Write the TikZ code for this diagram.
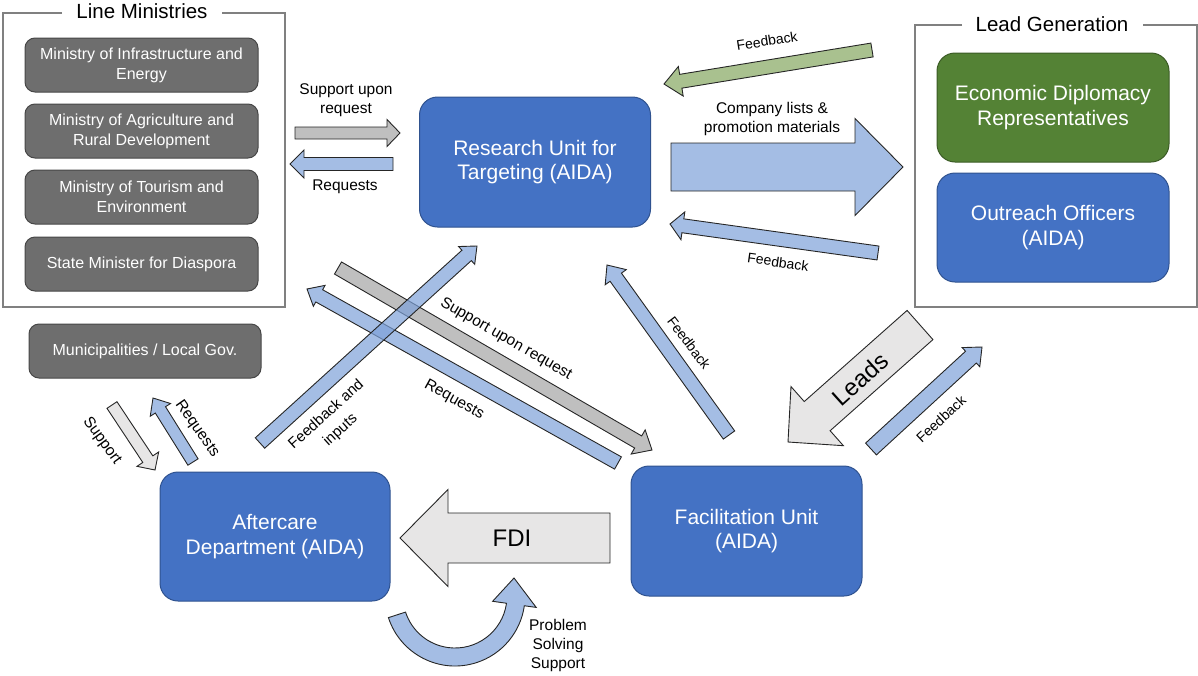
\documentclass[tikz,border=0pt]{standalone}
\usepackage{fontspec}
\setmainfont{Liberation Sans}
\usetikzlibrary{calc}
\definecolor{boxblue}{HTML}{4472C4}
\definecolor{boxblueline}{HTML}{2F528F}
\definecolor{boxgreen}{HTML}{548235}
\definecolor{boxgreenline}{HTML}{3B5B25}
\definecolor{boxgray}{HTML}{6E6E6E}
\definecolor{boxgrayline}{HTML}{474747}
\definecolor{framegray}{HTML}{808080}
\definecolor{arblue}{HTML}{7DA1D8}
\definecolor{argray}{HTML}{A4A4A4}
\definecolor{arlight}{HTML}{E7E6E6}
\definecolor{argreen}{HTML}{A9C18F}
\definecolor{arline}{HTML}{262626}

% block arrow: #1 style, #2 tail, #3 tip, #4 half shaft, #5 half head, #6 head length
\newcommand{\blockarrow}[6]{%
  \coordinate (hb) at ($(#3)!#6pt!(#2)$);
  \draw[#1] ($(#2)!#4pt!90:(#3)$) -- ($(hb)!#4pt!-90:(#2)$) -- ($(hb)!#5pt!-90:(#2)$) -- (#3)
    -- ($(hb)!#5pt!90:(#2)$) -- ($(hb)!#4pt!90:(#2)$) -- ($(#2)!#4pt!-90:(#3)$) -- cycle;}

\begin{document}
\begin{tikzpicture}[x=1pt,y=-1pt,
  font=\fontsize{15.5}{19}\selectfont,
  mbox/.style={draw=boxgrayline, fill=boxgray, rounded corners=10pt, line width=1pt,
     text=white, align=center, minimum width=233pt, minimum height=54pt, inner sep=0pt,
     font=\fontsize{16}{20}\selectfont},
  bbox/.style={draw=boxblueline, fill=boxblue, rounded corners=18pt, line width=1pt,
     text=white, align=center, minimum width=231pt, minimum height=130pt, inner sep=0pt,
     font=\fontsize{21}{24.5}\selectfont},
  gbox/.style={bbox, draw=boxgreenline, fill=boxgreen},
  frame/.style={draw=framegray, line width=1.1pt},
  title/.style={font=\fontsize{20.5}{24}\selectfont, inner sep=0pt},
  lbl/.style={align=center, inner sep=0pt},
  small/.style={lbl, font=\fontsize{14}{17}\selectfont},
  bluearrow/.style={draw=arline, fill=arblue, fill opacity=0.7, line width=0.9pt},
  grayarrow/.style={draw=arline, fill=argray, fill opacity=0.7, line width=0.9pt},
  lightarrow/.style={draw=arline, fill=arlight, line width=0.9pt},
  greenarrow/.style={draw=arline, fill=argreen, line width=0.9pt}]

\useasboundingbox (0,0) rectangle (1198,675);

% frames
\draw[frame] (62,13) -- (3,13) -- (3,307) -- (285,307) -- (285,13) -- (222,13);
\node[title] (lmt) at (142,11) {Line Ministries};
\draw[frame] (962,25) -- (915,25) -- (915,307) -- (1197,307) -- (1197,25) -- (1143,25);
\node[title] (lgt) at (1052,24) {Lead Generation};

% boxes
\node[mbox] (m1) at (141.5,65) {Ministry of Infrastructure and\\Energy};
\node[mbox] (m2) at (141.5,131) {Ministry of Agriculture and\\Rural Development};
\node[mbox] (m3) at (141.5,197) {Ministry of Tourism and\\Environment};
\node[mbox] (m4) at (141.5,264) {State Minister for Diaspora};
\node[mbox, minimum width=232pt] (muni) at (145,351) {Municipalities / Local Gov.};
\node[bbox] (research) at (535,162) {Research Unit for\\Targeting (AIDA)};
\node[gbox, minimum width=232pt, minimum height=109pt] (econ) at (1053,107.5) {Economic Diplomacy\\Representatives};
\node[bbox, minimum width=232pt, minimum height=109pt] (outreach) at (1053,227.5) {Outreach Officers\\(AIDA)};
\node[bbox] (facil) at (746.5,531) {Facilitation Unit\\(AIDA)};
\node[bbox, minimum width=230pt, minimum height=129pt] (after) at (275,536.5) {Aftercare\\Department (AIDA)};

% arrow end points
\coordinate (sr-s) at (295,133);  \coordinate (sr-e) at (400,133);
\coordinate (rq-s) at (393,164);  \coordinate (rq-e) at (290,164);
\coordinate (gf-s) at (872,50);   \coordinate (gf-e) at (664,84);
\coordinate (cl-s) at (671,167);  \coordinate (cl-e) at (903,167);
\coordinate (of-s) at (878,253);  \coordinate (of-e) at (670,224);
\coordinate (fi-s) at (260,443);  \coordinate (fi-e) at (477,246);
\coordinate (lr-s) at (618,463);  \coordinate (lr-e) at (307,289);
\coordinate (ls-s) at (338,268);  \coordinate (ls-e) at (652,450);
\coordinate (ff-s) at (729,435);  \coordinate (ff-e) at (607,265);
\coordinate (ld-s) at (920,325);  \coordinate (ld-e) at (788,442);
\coordinate (fo-s) at (871,449);  \coordinate (fo-e) at (982,347);
\coordinate (ms-s) at (112,405);  \coordinate (ms-e) at (155,470);
\coordinate (mr-s) at (193,462);  \coordinate (mr-e) at (153,398);
\coordinate (fd-s) at (610,538);  \coordinate (fd-e) at (400,538);
\coordinate (ps-c) at (455,596);  \coordinate (ps-tip) at (514,578);

% arrows
\blockarrow{grayarrow}{sr-s}{sr-e}{6}{13.5}{13}
\blockarrow{bluearrow}{rq-s}{rq-e}{6.5}{14}{14}
\blockarrow{greenarrow}{gf-s}{gf-e}{7}{15}{17}
\blockarrow{bluearrow}{cl-s}{cl-e}{24}{48.5}{48}
\blockarrow{bluearrow}{of-s}{of-e}{7}{14}{13}
\blockarrow{grayarrow}{ls-s}{ls-e}{7}{14}{16}
\blockarrow{bluearrow}{lr-s}{lr-e}{7}{12}{14}
\blockarrow{bluearrow}{fi-s}{fi-e}{7}{12}{14}
\blockarrow{bluearrow}{ff-s}{ff-e}{7}{13}{15}
\blockarrow{lightarrow}{ld-s}{ld-e}{19.5}{39.5}{39}
\blockarrow{bluearrow}{fo-s}{fo-e}{8}{13}{15}
\blockarrow{lightarrow}{ms-s}{ms-e}{6}{13}{13}
\blockarrow{bluearrow}{mr-s}{mr-e}{6}{12}{14}
\blockarrow{lightarrow}{fd-s}{fd-e}{25}{48.5}{48}
\draw[bluearrow] ($(ps-c)+(162:70)$) arc[start angle=162, end angle=8, radius=70]
  -- ($(ps-c)+(8:82)$) -- (ps-tip) -- ($(ps-c)+(8:38)$) -- ($(ps-c)+(8:52)$)
  arc[start angle=8, end angle=162, radius=52] -- cycle;

% labels
\node[lbl] (l-sr) at (346,100) {Support upon\\request};
\node[lbl] (l-rq) at (345,187) {Requests};
\node[small, rotate=9] (l-gf) at (767,41) {Feedback};
\node[lbl] (l-cl) at (772,119) {Company lists \&\\promotion materials};
\node[small, rotate=-8] (l-of) at (778,262) {Feedback};
\node[lbl, font=\fontsize{15}{21}\selectfont, rotate=42] (l-fi) at (333.5,422.5) {Feedback and\\inputs};
\node[lbl, rotate=-29] (l-lr) at (454,400) {Requests};
\node[lbl, rotate=-30] (l-ls) at (506,339) {Support upon request};
\node[small, rotate=-53] (l-ff) at (689,343) {Feedback};
\node[lbl, font=\fontsize{24}{28}\selectfont, rotate=42] (l-ld) at (860,379) {Leads};
\node[small, rotate=43] (l-fo) at (941,419) {Feedback};
\node[lbl, rotate=-54] (l-ms) at (102,441) {Support};
\node[lbl, rotate=-55] (l-mr) at (197,429) {Requests};
\node[lbl, font=\fontsize{24}{28}\selectfont] (l-fd) at (512,538) {FDI};
\node[lbl] (l-ps) at (558,645) {Problem\\Solving\\Support};

\end{tikzpicture}
\end{document}
